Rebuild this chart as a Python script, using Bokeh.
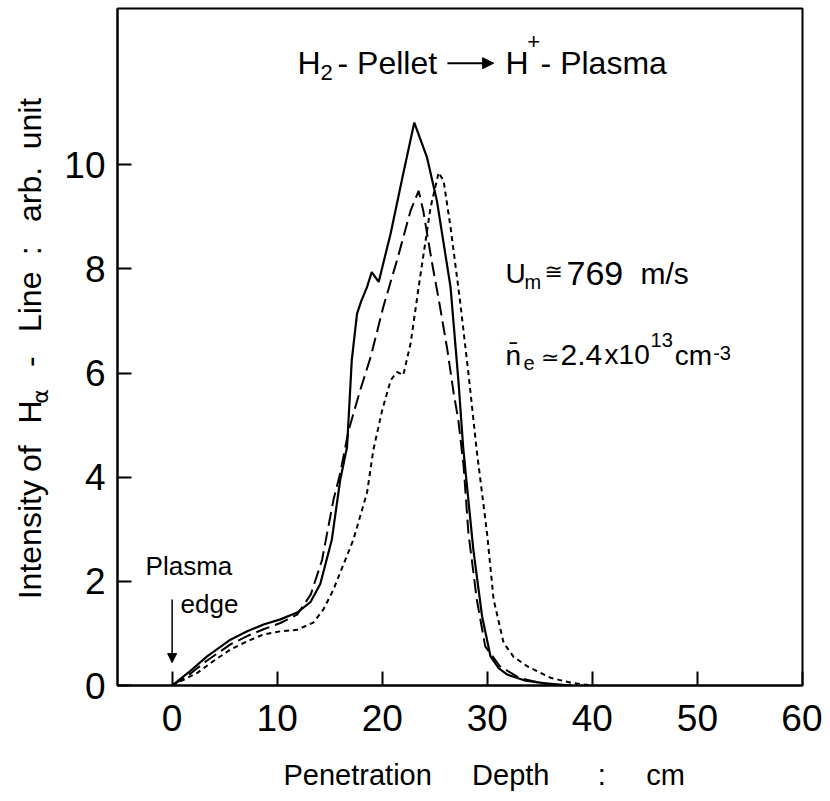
from bokeh.plotting import figure
from bokeh.layouts import row
from bokeh.models import Label, Arrow, NormalHead, FixedTicker, Range1d
from bokeh.embed import file_html
from bokeh.resources import INLINE
import math

# ---- data ----
x_solid = [0, 1.56, 3.33, 5.55, 7.14, 8.7, 10.3, 11.9, 13.16, 14.1, 15.2, 16.0, 16.65, 17.1, 17.6, 18.0,
           18.55, 19.0, 19.66, 20.8, 22.0, 23.05, 24.26, 25.2, 26.5, 27.27, 27.7, 28.07, 28.67, 29.5,
           30.3, 31.1, 31.9, 33.5, 35.5, 38]
y_solid = [0, 0.25, 0.56, 0.88, 1.04, 1.17, 1.27, 1.40, 1.60, 1.95, 2.8, 3.95, 4.58, 6.25, 7.14, 7.38,
           7.65, 7.94, 7.75, 8.68, 9.83, 10.81, 10.14, 9.31, 7.65, 5.80, 4.58, 3.82, 2.61, 1.33,
           0.56, 0.33, 0.21, 0.1, 0.04, 0]

x_long = [0, 1.56, 3.33, 5.55, 7.14, 8.7, 10.3, 11.9, 13.2, 14.27, 15.35, 16.0, 16.8, 17.9, 18.9, 20.1,
          21.4, 22.7, 23.46, 23.9, 24.7, 25.5, 26.2, 26.8, 27.24, 27.75, 28.2, 29.0, 29.8, 31.2, 33, 35, 37]
y_long = [0, 0.2, 0.48, 0.79, 0.95, 1.08, 1.2, 1.36, 1.75, 2.41, 3.56, 4.08, 4.9, 5.67, 6.31, 7.27,
          8.16, 9.12, 9.50, 9.12, 8.16, 7.27, 6.44, 5.61, 5.10, 4.20, 2.93, 1.65, 0.75, 0.37, 0.15, 0.05, 0]

x_short = [0, 2.38, 3.93, 5.55, 7.14, 8.7, 10.3, 11.9, 13.45, 14.4, 15.35, 17.25, 18.55, 19.15, 20.0,
           20.8, 21.4, 22.0, 22.7, 23.5, 24.6, 25.37, 25.84, 26.5, 27.4, 28.2, 29.0, 29.97, 30.6,
           31.55, 32.5, 33.8, 36, 38, 40]
y_short = [0, 0.24, 0.47, 0.69, 0.85, 0.98, 1.04, 1.07, 1.21, 1.46, 1.84, 2.8, 3.70, 4.52, 5.29,
           5.86, 6.02, 5.96, 6.57, 7.7, 9.18, 9.85, 9.69, 8.80, 7.39, 6.0, 4.5, 2.93, 1.65,
           0.82, 0.55, 0.37, 0.15, 0.05, 0]

x_ticks = [0, 10, 20, 30, 40, 50, 60]
y_ticks = [0, 2, 4, 6, 8, 10]

FONT = "Liberation Sans"
NB = "\u00a0"
H = 793
LEFT_W = 56

p = figure(width=822 - LEFT_W, height=H, output_backend="svg", toolbar_location=None,
           x_range=Range1d(-5.2, 60), y_range=Range1d(0, 13),
           min_border_left=117 - LEFT_W, min_border_right=20, min_border_top=8, min_border_bottom=107)
p.grid.visible = False
p.outline_line_color = "black"
p.outline_line_width = 2
p.background_fill_color = "white"
p.border_fill_color = "white"

for ax, ticks in ((p.xaxis[0], x_ticks), (p.yaxis[0], y_ticks)):
    ax.ticker = FixedTicker(ticks=ticks)
    ax.major_tick_in = 14
    ax.major_tick_out = 0
    ax.minor_tick_line_color = None
    ax.major_tick_line_width = 2
    ax.axis_line_width = 2
    ax.axis_line_color = "black"
    ax.major_tick_line_color = "black"
    ax.major_label_text_font = FONT
    ax.major_label_text_font_size = "37px"
    ax.major_label_text_color = "black"
p.xaxis.major_label_standoff = 19
p.yaxis.major_label_standoff = 12

p.xaxis.axis_label = NB * 6 + "Penetration" + NB * 5 + "Depth" + NB * 6 + ":" + NB * 5 + "cm"
p.xaxis.axis_label_text_font = FONT
p.xaxis.axis_label_text_font_size = "29px"
p.xaxis.axis_label_text_font_style = "normal"
p.xaxis.axis_label_text_color = "black"
p.xaxis.axis_label_standoff = 25

p.line(x_solid, y_solid, line_color="black", line_width=2.2)
p.line(x_long, y_long, line_color="black", line_width=2, line_dash="14 6")
p.line(x_short, y_short, line_color="black", line_width=2, line_dash="5 4")

def lab(fig, x, y, t, size=28, font=FONT, angle=0, align="left"):
    fig.add_layout(Label(x=x, y=y, text=t, text_font=font, text_font_size=f"{size}px",
                         text_color="black", angle=angle, text_align=align,
                         text_baseline="middle"))

# title
lab(p, 11.94, 11.96, "H", 32)
lab(p, 14.13, 11.77, "2", 22)
lab(p, 15.74, 11.96, "- Pellet", 32)
p.add_layout(Arrow(x_start=26.2, y_start=11.95, x_end=30.6, y_end=11.95, line_width=2,
                   end=NormalHead(size=11, fill_color="black", line_color="black")))
lab(p, 31.73, 11.96, "H", 32)
lab(p, 33.8, 12.37, "+", 22)
lab(p, 35.07, 11.96, "- Plasma", 32)

# U_m annotation
lab(p, 31.72, 7.92, "U", 28)
lab(p, 33.54, 7.74, "m", 20)
lab(p, 35.45, 7.95, "\u2245", 22, font="DejaVu Sans")
lab(p, 37.54, 7.92, "769", 34)
lab(p, 44.58, 7.92, "m/s", 30)

# n_e annotation
lab(p, 31.72, 6.33, "n\u0304", 28)
lab(p, 33.45, 6.19, "e", 20)
lab(p, 35.1, 6.29, "\u2243", 22, font="DejaVu Sans")
lab(p, 36.97, 6.35, "2.4", 30)
lab(p, 41.16, 6.35, "x10", 28)
lab(p, 45.54, 6.63, "13", 20)
lab(p, 47.83, 6.33, "cm", 28)
lab(p, 51.5, 6.39, "-3", 20)

# plasma edge
lab(p, -2.53, 2.29, "Plasma", 26)
lab(p, 0.8, 1.57, "edge", 26)
p.add_layout(Arrow(x_start=0, y_start=1.65, x_end=0, y_end=0.44, line_width=1.5,
                   end=NormalHead(size=9, fill_color="black", line_color="black")))

# left strip holding the rotated y-axis title (pixel coordinates, origin bottom-left)
ylab = figure(width=LEFT_W, height=H, output_backend="svg", toolbar_location=None,
              x_range=Range1d(0, LEFT_W), y_range=Range1d(0, H),
              x_axis_type=None, y_axis_type=None, min_border=0)
ylab.grid.visible = False
ylab.outline_line_color = None
ylab.background_fill_color = "white"
ylab.border_fill_color = "white"

R = math.pi / 2
for py, t in ((692, "Intensity"), (543, "of"), (486, "H"), (420, "-"), (379, "Line"),
              (289, ":"), (250, "arb."), (165, "unit")):
    lab(ylab, 29, H - py, t, 32, angle=R)
lab(ylab, 40, H - 463, "\u03b1", 22, font="DejaVu Sans", angle=R)

layout = row(ylab, p)
open("out.html", "w").write(file_html(layout, INLINE))
